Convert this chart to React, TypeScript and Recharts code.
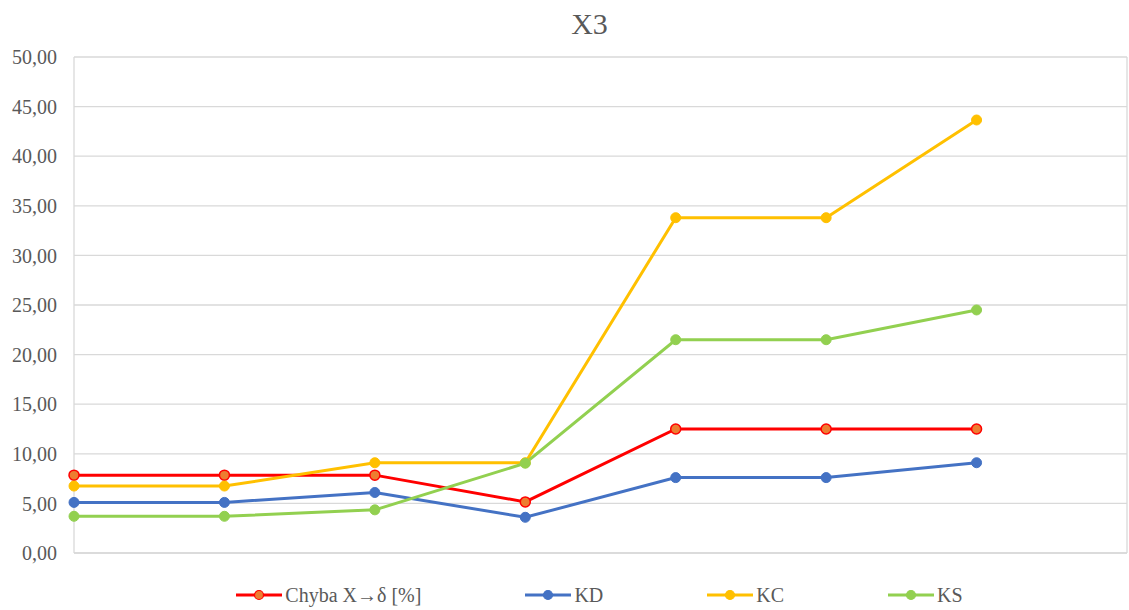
import React from 'react';
import { LineChart, Line, XAxis, YAxis, CartesianGrid, Legend } from 'recharts';

const positions = [0, 1, 2, 3, 4, 5, 6];
const chyba = [7.85, 7.85, 7.85, 5.15, 12.5, 12.5, 12.5];
const kd = [5.1, 5.1, 6.1, 3.6, 7.6, 7.6, 9.1];
const kc = [6.75, 6.75, 9.1, 9.1, 33.8, 33.8, 43.65];
const ks = [3.7, 3.7, 4.35, 9.05, 21.5, 21.5, 24.5];
const xTicks = [0, 1, 2, 3, 4, 5, 6, 7];
const yTicks = [0, 5, 10, 15, 20, 25, 30, 35, 40, 45, 50];

const data = positions.map((x, i) => ({
  x,
  chyba: chyba[i],
  kd: kd[i],
  kc: kc[i],
  ks: ks[i],
}));

const SERIES = [
  { key: 'chyba', name: 'Chyba X→δ [%]', color: '#FF0000', dotFill: '#ED7D31' },
  { key: 'kd', name: 'KD', color: '#4472C4', dotFill: '#4472C4' },
  { key: 'kc', name: 'KC', color: '#FFC000', dotFill: '#FFC000' },
  { key: 'ks', name: 'KS', color: '#92D050', dotFill: '#92D050' },
];

const FONT = 'Liberation Serif, Tinos, Times New Roman, DejaVu Serif, serif';
const TEXT = '#595959';
const GRID = '#d9d9d9';

const fmt = (v: number) => v.toFixed(2).replace('.', ',');

const LegendContent = () => (
  <div style={{ display: 'flex', justifyContent: 'center', alignItems: 'center', gap: 104, height: 30, paddingLeft: 72 }}>
    {SERIES.map(s => (
      <div key={s.key} style={{ display: 'flex', alignItems: 'center' }}>
        <svg width={46} height={12}>
          <line x1={0} y1={6} x2={46} y2={6} stroke={s.color} strokeWidth={3} />
          <circle cx={23} cy={6} r={4.5} fill={s.dotFill} stroke={s.color} strokeWidth={1.2} />
        </svg>
        <span style={{ marginLeft: 3, fontFamily: FONT, fontSize: 20, color: TEXT }}>{s.name}</span>
      </div>
    ))}
  </div>
);

export default function App() {
  return (
    <div style={{ position: 'relative', width: 1129, height: 610, background: '#fff', fontFamily: FONT }}>
      <style>{`body{margin:0}`}</style>
      <div style={{ position: 'absolute', top: 6, left: 0, width: 1179, textAlign: 'center', fontFamily: FONT, fontSize: 30, color: TEXT, lineHeight: '36px' }}>
        X3
      </div>
      <LineChart width={1129} height={610} data={data} margin={{ top: 57, right: 2, bottom: 0, left: 0 }}>
        <CartesianGrid stroke={GRID} strokeWidth={1.3} />
        <XAxis
          dataKey="x"
          type="number"
          domain={[0, 7]}
          ticks={xTicks}
          tick={false}
          tickLine={false}
          axisLine={{ stroke: GRID, strokeWidth: 1.3 }}
          height={27}
        />
        <YAxis
          domain={[0, 50]}
          ticks={yTicks}
          tickFormatter={fmt}
          axisLine={false}
          tickLine={false}
          tickSize={0}
          tickMargin={17}
          width={74}
          tick={{ fontFamily: FONT, fontSize: 20, fill: TEXT }}
        />
        <Legend verticalAlign="bottom" height={30} content={<LegendContent />} />
        {SERIES.map(s => (
          <Line
            key={s.key}
            dataKey={s.key}
            name={s.name}
            stroke={s.color}
            strokeWidth={3}
            dot={{ r: 5, fill: s.dotFill, stroke: s.color, strokeWidth: s.key === 'chyba' ? 1.5 : 1 }}
            isAnimationActive={false}
          />
        ))}
      </LineChart>
    </div>
  );
}
